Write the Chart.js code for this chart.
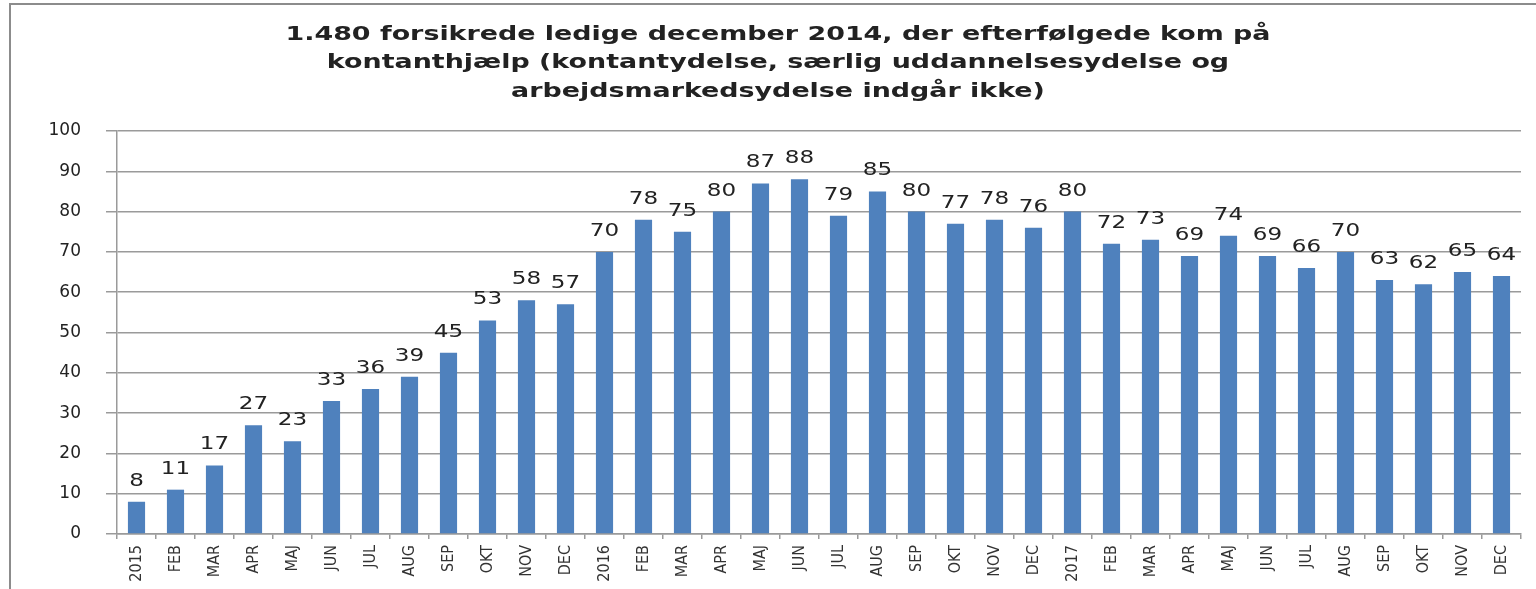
<!DOCTYPE html>
<html>
<head>
<meta charset="utf-8">
<script src="https://cdn.jsdelivr.net/npm/chart.js@4/dist/chart.umd.min.js"></script>
<style>
    html, body { margin: 0; padding: 0; background: #fff; overflow: hidden; }
    #wrap { position: relative; width: 1536px; height: 589px; }
    #frame {
        position: absolute; left: 9px; top: 3px; width: 1600px; height: 700px;
        border: 2px solid #8c8c8c; box-sizing: border-box; pointer-events: none;
    }
    canvas { position: absolute; left: 0; top: 0; }
</style>
</head>
<body>
<div id="wrap">
    <canvas id="chart" width="1536" height="589"></canvas>
    <div id="frame"></div>
</div>
<script>
// Monthly counts, Jan 2015 - Dec 2017
var MONTHS = ['2015', 'FEB', 'MAR', 'APR', 'MAJ', 'JUN', 'JUL', 'AUG', 'SEP', 'OKT', 'NOV', 'DEC',
              '2016', 'FEB', 'MAR', 'APR', 'MAJ', 'JUN', 'JUL', 'AUG', 'SEP', 'OKT', 'NOV', 'DEC',
              '2017', 'FEB', 'MAR', 'APR', 'MAJ', 'JUN', 'JUL', 'AUG', 'SEP', 'OKT', 'NOV', 'DEC'];
var COUNTS = [8, 11, 17, 27, 23, 33, 36, 39, 45, 53, 58, 57,
              70, 78, 75, 80, 87, 88, 79, 85, 80, 77, 78, 76,
              80, 72, 73, 69, 74, 69, 66, 70, 63, 62, 65, 64];
var TITLE_LINES = [
    '1.480 forsikrede ledige december 2014, der efterfølgede kom på',
    'kontanthjælp (kontantydelse, særlig uddannelsesydelse og',
    'arbejdsmarkedsydelse indgår ikke)'
];
var Y_MIN = 0;
var Y_MAX = 100;
var Y_STEP = 10;

(function () {
    'use strict';

    var BAR = '#4f81bd';
    var GRID = '#9a9a9a';
    var TEXT = '#222222';

    // the source image is stretched sideways; mimic that for the free text
    var TITLE_FONT = 'bold 19px "DejaVu Sans", sans-serif';
    var TITLE_WIDTH = 985;   // width of the first title line in the reference
    var TITLE_CX = 778;
    var TITLE_Y = [35, 63.5, 92];
    var LABEL_FONT = '18px "DejaVu Sans", sans-serif';
    var LABEL_STRETCH = 1.28;

    var stretchedTitle = {
        id: 'stretchedTitle',
        afterDraw: function (chart) {
            var ctx = chart.ctx;
            ctx.save();
            ctx.font = TITLE_FONT;
            ctx.fillStyle = TEXT;
            ctx.textAlign = 'center';
            ctx.textBaseline = 'middle';
            var sx = TITLE_WIDTH / ctx.measureText(TITLE_LINES[0]).width;
            TITLE_LINES.forEach(function (line, i) {
                ctx.save();
                ctx.translate(TITLE_CX, TITLE_Y[i]);
                ctx.scale(sx, 1);
                ctx.fillText(line, 0, 0);
                ctx.restore();
            });
            ctx.restore();
        }
    };

    // value labels above each bar (no datalabels plugin available offline)
    var valueLabels = {
        id: 'valueLabels',
        afterDatasetsDraw: function (chart) {
            var ctx = chart.ctx;
            var meta = chart.getDatasetMeta(0);
            ctx.save();
            ctx.font = LABEL_FONT;
            ctx.fillStyle = TEXT;
            ctx.textAlign = 'center';
            ctx.textBaseline = 'alphabetic';
            meta.data.forEach(function (bar, i) {
                ctx.save();
                ctx.translate(bar.x, bar.y - 16);
                ctx.scale(LABEL_STRETCH, 1);
                ctx.fillText(String(COUNTS[i]), 0, 0);
                ctx.restore();
            });
            ctx.restore();
        }
    };

    new Chart(document.getElementById('chart').getContext('2d'), {
        type: 'bar',
        data: {
            labels: MONTHS,
            datasets: [{
                data: COUNTS,
                backgroundColor: BAR,
                borderWidth: 0,
                barPercentage: 0.44,
                categoryPercentage: 1
            }]
        },
        options: {
            responsive: false,
            animation: false,
            layout: { padding: { left: 29, right: 15, top: 131, bottom: 0 } },
            scales: {
                x: {
                    grid: { display: true, drawOnChartArea: false, color: GRID, lineWidth: 1.5, tickLength: 5, offset: true },
                    border: { color: GRID, width: 1.5 },
                    ticks: {
                        autoSkip: false, minRotation: 90, maxRotation: 90, padding: 6,
                        color: '#333333',
                        font: { family: '"Liberation Sans Narrow", "DejaVu Sans Condensed", sans-serif', size: 16 }
                    },
                    afterFit: function (scale) { scale.height = 55; }
                },
                y: {
                    min: Y_MIN,
                    max: Y_MAX,
                    grid: { color: GRID, lineWidth: 1.5, tickLength: 11 },
                    border: { color: GRID, width: 1.5 },
                    ticks: {
                        stepSize: Y_STEP, padding: 25, color: TEXT,
                        font: { family: '"DejaVu Sans", sans-serif', size: 17 }
                    },
                    afterFit: function (scale) { scale.width = 88; }
                }
            },
            plugins: {
                legend: { display: false },
                tooltip: { enabled: false },
                title: { display: false }
            }
        },
        plugins: [valueLabels, stretchedTitle]
    });
})();
</script>
</body>
</html>
